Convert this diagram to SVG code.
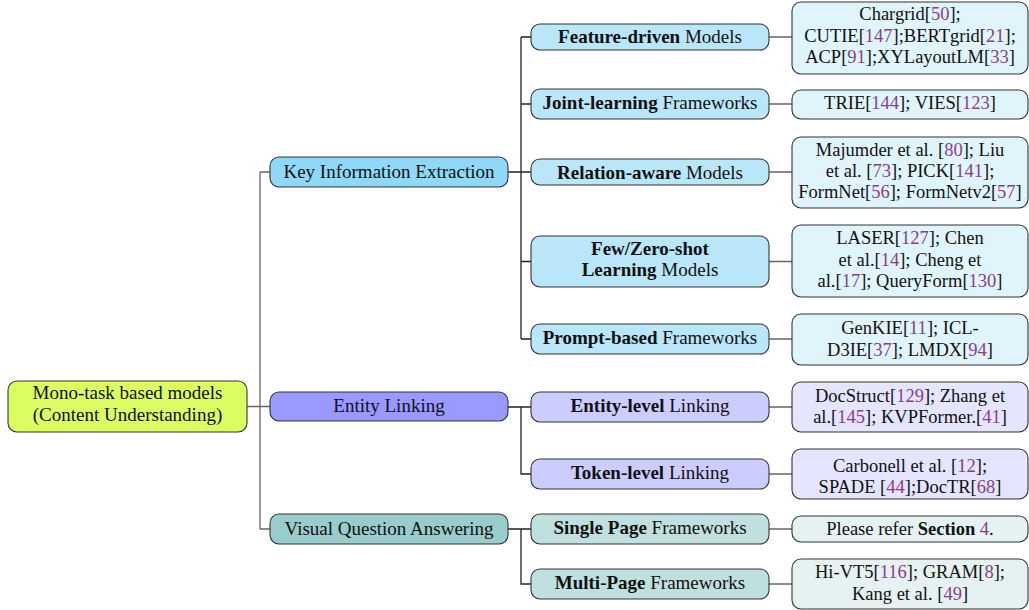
<svg xmlns="http://www.w3.org/2000/svg" width="1029" height="610" viewBox="0 0 1029 610">
<style>
text{font-family:"Liberation Serif","Times New Roman",serif;font-size:19px;fill:#111;text-anchor:middle}
.lf text{font-size:18.5px}
.b{font-weight:bold}
.c{fill:#873e8d}
rect{stroke:#333;stroke-width:1.1}
.root{fill:#dcfd62}
.k1{fill:#8fd8f7}.k2{fill:#b9e6f9}.k3{fill:#e0f4fc}
.e1{fill:#9999ff}.e2{fill:#ccccff}.e3{fill:#e5e5ff}
.v1{fill:#99cccc}.v2{fill:#bfe0df}.v3{fill:#e6f2f2}
#connectors path{fill:none;stroke-width:1.3}
.g{stroke:#666}.d{stroke:#222}
</style>
<g id="connectors">
<path class="g" d="M247 406.5H270M260 172V529M260 172H270M260 529H270"/>
<path class="d" d="M508 172H531M521 37V339M521 37H531M521 104H531M521 261.5H531M521 339H531"/>
<path class="d" d="M508 407H531M521 407V474H531"/>
<path class="d" d="M508 529H531M521 529V584H531"/>
<path class="g" d="M769 37H792M769 104H792M769 172H792M769 261.5H792M769 339H792M769 407H792M769 474H792M769 529H792M769 584H792"/>
</g>
<g id="root"><rect class="root" x="8" y="381" width="239" height="51" rx="9"/>
<text x="127.5" y="399">Mono-task based models</text><text x="127.5" y="421">(Content Understanding)</text></g>
<g id="kie"><rect class="k1" x="270" y="157" width="238" height="30" rx="9"/><text x="389" y="178">Key Information Extraction</text></g>
<g id="el"><rect class="e1" x="270" y="392" width="238" height="29" rx="9"/><text x="389" y="412">Entity Linking</text></g>
<g id="vqa"><rect class="v1" x="270" y="514" width="238" height="30" rx="9"/><text x="389" y="535">Visual Question Answering</text></g>

<g id="feature"><rect class="k2" x="531" y="24" width="238" height="26" rx="9"/><text x="650" y="43"><tspan class="b">Feature-driven</tspan> Models</text></g>
<g id="joint"><rect class="k2" x="531" y="89" width="238" height="30" rx="9"/><text x="650" y="109"><tspan class="b">Joint-learning</tspan> Frameworks</text></g>
<g id="relation"><rect class="k2" x="531" y="159" width="238" height="26" rx="9"/><text x="650" y="179"><tspan class="b">Relation-aware</tspan> Models</text></g>
<g id="fewshot"><rect class="k2" x="531" y="236" width="238" height="51" rx="9"/><text x="650" y="255" class="b">Few/Zero-shot</text><text x="650" y="276"><tspan class="b">Learning</tspan> Models</text></g>
<g id="prompt"><rect class="k2" x="531" y="324" width="238" height="30" rx="9"/><text x="650" y="344"><tspan class="b">Prompt-based</tspan> Frameworks</text></g>
<g id="entity"><rect class="e2" x="531" y="392" width="238" height="30" rx="9"/><text x="650" y="412"><tspan class="b">Entity-level</tspan> Linking</text></g>
<g id="token"><rect class="e2" x="531" y="459" width="238" height="30" rx="9"/><text x="650" y="479"><tspan class="b">Token-level</tspan> Linking</text></g>
<g id="single"><rect class="v2" x="531" y="514" width="238" height="30" rx="9"/><text x="650" y="534"><tspan class="b">Single Page</tspan> Frameworks</text></g>
<g id="multi"><rect class="v2" x="531" y="569" width="238" height="30" rx="9"/><text x="650" y="589"><tspan class="b">Multi-Page</tspan> Frameworks</text></g>

<g class="lf">
<g id="leaf-feature"><rect class="k3" x="792" y="2" width="236" height="72" rx="9"/>
<text x="910" y="20">Chargrid[<tspan class="c">50</tspan>];</text>
<text x="910" y="42">CUTIE[<tspan class="c">147</tspan>];BERTgrid[<tspan class="c">21</tspan>];</text>
<text x="910" y="63">ACP[<tspan class="c">91</tspan>];XYLayoutLM[<tspan class="c">33</tspan>]</text></g>
<g id="leaf-joint"><rect class="k3" x="792" y="90" width="236" height="29" rx="9"/>
<text x="910" y="109">TRIE[<tspan class="c">144</tspan>]; VIES[<tspan class="c">123</tspan>]</text></g>
<g id="leaf-relation"><rect class="k3" x="792" y="137" width="236" height="71" rx="9"/>
<text x="910" y="156">Majumder et al. [<tspan class="c">80</tspan>]; Liu</text>
<text x="910" y="177">et al. [<tspan class="c">73</tspan>]; PICK[<tspan class="c">141</tspan>];</text>
<text x="910" y="198">FormNet[<tspan class="c">56</tspan>]; FormNetv2[<tspan class="c">57</tspan>]</text></g>
<g id="leaf-fewshot"><rect class="k3" x="792" y="225" width="236" height="72" rx="9"/>
<text x="910" y="244">LASER[<tspan class="c">127</tspan>]; Chen</text>
<text x="910" y="266">et al.[<tspan class="c">14</tspan>]; Cheng et</text>
<text x="910" y="287">al.[<tspan class="c">17</tspan>]; QueryForm[<tspan class="c">130</tspan>]</text></g>
<g id="leaf-prompt"><rect class="k3" x="792" y="314" width="236" height="51" rx="9"/>
<text x="910" y="334">GenKIE[<tspan class="c">11</tspan>]; ICL-</text>
<text x="910" y="356">D3IE[<tspan class="c">37</tspan>]; LMDX[<tspan class="c">94</tspan>]</text></g>
<g id="leaf-entity"><rect class="e3" x="792" y="382" width="236" height="50" rx="9"/>
<text x="910" y="402">DocStruct[<tspan class="c">129</tspan>]; Zhang et</text>
<text x="910" y="423">al.[<tspan class="c">145</tspan>]; KVPFormer.[<tspan class="c">41</tspan>]</text></g>
<g id="leaf-token"><rect class="e3" x="792" y="449" width="236" height="50" rx="9"/>
<text x="910" y="472">Carbonell et al. [<tspan class="c">12</tspan>];</text>
<text x="910" y="493">SPADE [<tspan class="c">44</tspan>];DocTR[<tspan class="c">68</tspan>]</text></g>
<g id="leaf-single"><rect class="v3" x="792" y="516" width="236" height="26" rx="9"/>
<text x="910" y="535">Please refer <tspan class="b">Section</tspan> <tspan class="c">4</tspan>.</text></g>
<g id="leaf-multi"><rect class="v3" x="792" y="559" width="236" height="50" rx="9"/>
<text x="910" y="578">Hi-VT5[<tspan class="c">116</tspan>]; GRAM[<tspan class="c">8</tspan>];</text>
<text x="910" y="600">Kang et al. [<tspan class="c">49</tspan>]</text></g>
</g>
</svg>
